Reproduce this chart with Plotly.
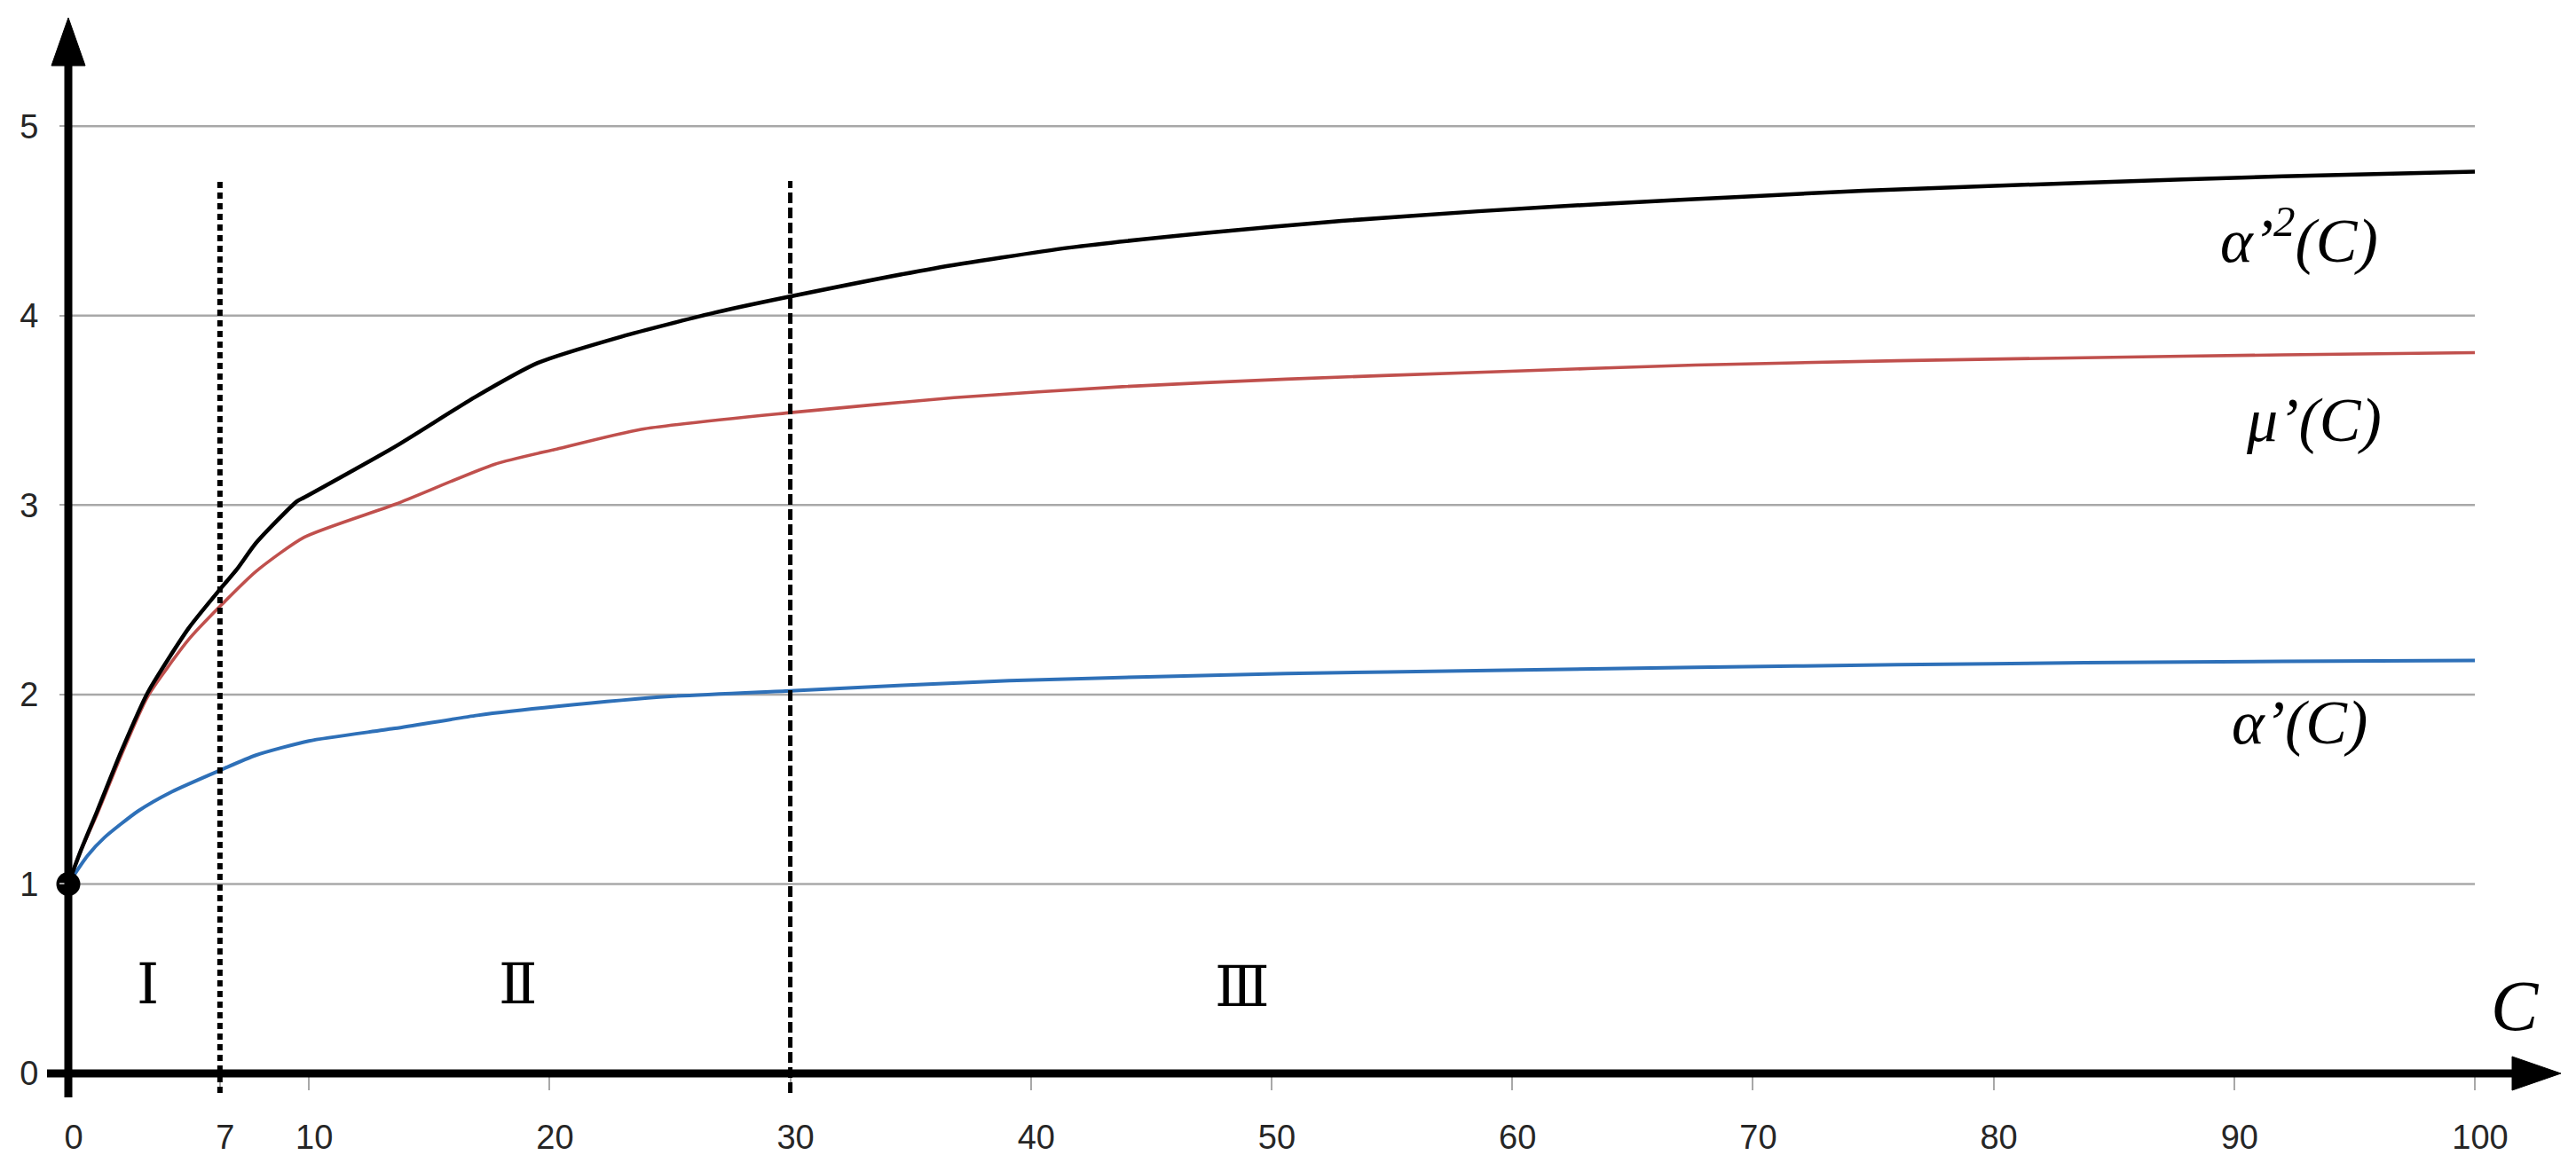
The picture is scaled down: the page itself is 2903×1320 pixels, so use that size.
import plotly.graph_objects as go

W, H = 2903, 1320

# ---------------- data ----------------
c_alpha2 = [0, 0.5, 1.2, 2.2, 3.3, 5.0, 6.3, 7.0, 7.8, 9.5, 9.8, 13.6, 16.9, 19.5,
            23.0, 26.9, 30.3, 36.0, 41.6, 47.3, 52.9, 58.6, 64.2, 69.8, 74.6, 83.8, 92, 100]
alpha2 = [1.0, 1.17, 1.385, 1.70, 2.01, 2.35, 2.555, 2.66, 2.80, 3.02, 3.04, 3.31, 3.57, 3.75,
          3.89, 4.017, 4.109, 4.25, 4.359, 4.437, 4.50, 4.551, 4.593, 4.629, 4.659, 4.702, 4.735, 4.76]

c_mu = [0, 0.5, 1.2, 2.2, 3.3, 5.0, 6.3, 7.8, 9.8, 13.6, 17.7, 20.3, 23.8, 30,
        36.8, 43.8, 50.6, 59.1, 67.6, 76, 83.8, 92, 100]
mu = [1.0, 1.17, 1.37, 1.68, 1.99, 2.29, 2.465, 2.65, 2.83, 3.005, 3.215, 3.296, 3.40, 3.488,
      3.567, 3.625, 3.665, 3.703, 3.739, 3.762, 3.778, 3.793, 3.805]

c_alpha = [0, 0.2, 0.8, 1.5, 2.9, 4.3, 6.3, 7.8, 10.0, 13.5, 17, 20.3, 25, 30,
           39.1, 50.6, 59.1, 67.6, 76, 83.8, 92, 100]
alpha = [1.0, 1.04, 1.15, 1.245, 1.385, 1.487, 1.60, 1.68, 1.755, 1.82, 1.89, 1.937, 1.99, 2.02,
         2.073, 2.111, 2.127, 2.143, 2.157, 2.168, 2.175, 2.18]

x_tick_vals = [0, 6.3, 10, 20, 30, 40, 50, 60, 70, 80, 90, 100]
x_tick_text = ["0", "7", "10", "20", "30", "40", "50", "60", "70", "80", "90", "100"]
y_tick_vals = [0, 1, 2, 3, 4, 5]
grid_levels = [1, 2, 3, 4, 5]
boundaries = [6.3, 30]
region_text = ["Ⅰ", "Ⅱ", "Ⅲ"]
region_x = [3.3, 18.7, 48.8]
region_y = [0.47, 0.47, 0.455]
curve_labels = ["<i>α’<sup>2</sup>(C)</i>", "<i>μ’(C)</i>", "<i>α’(C)</i>"]
curve_label_x = [92.7, 93.3, 92.7]
curve_label_y = [4.42, 3.45, 1.85]
start_x, start_y = [0], [1]

# ---------------- pixel <-> data helpers (layout only) ----------------
X0, XS = 77.0, 27.12      # px of C=0, px per unit
Y0, YS = 1210.0, 213.55   # px of value 0, px per unit


def dx(px):
    return (px - X0) / XS


def dy(py):
    return (Y0 - py) / YS


BLACK = "#000000"
RED = "#C0504D"
BLUE = "#2E70B8"
GRID = "#A8A8A8"

fig = go.Figure()

fig.add_trace(go.Scatter(x=c_alpha, y=alpha, mode="lines",
                         line=dict(color=BLUE, width=4, shape="spline", smoothing=0.6),
                         hoverinfo="skip"))
fig.add_trace(go.Scatter(x=c_mu, y=mu, mode="lines",
                         line=dict(color=RED, width=3.6, shape="spline", smoothing=0.6),
                         hoverinfo="skip"))
fig.add_trace(go.Scatter(x=c_alpha2, y=alpha2, mode="lines",
                         line=dict(color=BLACK, width=4.5, shape="spline", smoothing=0.6),
                         hoverinfo="skip"))

shapes = []
# gridlines
for g in grid_levels:
    shapes.append(dict(type="line", xref="x", yref="y", x0=0, x1=100, y0=g, y1=g,
                       line=dict(color=GRID, width=2.5), layer="below"))
# region boundaries
shapes.append(dict(type="line", xref="x", yref="y", x0=boundaries[0], x1=boundaries[0],
                   y0=dy(1232), y1=dy(205), line=dict(color=BLACK, width=6, dash="7px,5px")))
shapes.append(dict(type="line", xref="x", yref="y", x0=boundaries[1], x1=boundaries[1],
                   y0=dy(1232), y1=dy(204), line=dict(color=BLACK, width=5, dash="12px,5px")))
# axes
shapes.append(dict(type="line", xref="x", yref="y", x0=dx(53), x1=dx(2835), y0=0, y1=0,
                   line=dict(color=BLACK, width=9)))
shapes.append(dict(type="line", xref="x", yref="y", x0=0, x1=0, y0=dy(1237), y1=dy(70),
                   line=dict(color=BLACK, width=9)))
# arrow heads
shapes.append(dict(type="path", xref="x", yref="y",
                   path=f"M {dx(2831)},{dy(Y0 - 19)} L {dx(2886)},{0} L {dx(2831)},{dy(Y0 + 19)} Z",
                   fillcolor=BLACK, line=dict(color=BLACK, width=1)))
shapes.append(dict(type="path", xref="x", yref="y",
                   path=f"M {dx(58)},{dy(74)} L {0},{dy(20)} L {dx(96)},{dy(74)} Z",
                   fillcolor=BLACK, line=dict(color=BLACK, width=1)))

fig.add_trace(go.Scatter(x=start_x, y=start_y, mode="markers",
                         marker=dict(color=BLACK, size=27), cliponaxis=False, hoverinfo="skip"))

annotations = []
for t, x, y in zip(region_text, region_x, region_y):
    annotations.append(dict(text=t, x=x, y=y, xref="x", yref="y", showarrow=False,
                            xanchor="center", yanchor="middle",
                            font=dict(family="Liberation Serif, DejaVu Serif, serif", size=64, color=BLACK)))
for t, x, y in zip(curve_labels, curve_label_x, curve_label_y):
    annotations.append(dict(text=t, x=x, y=y, xref="x", yref="y", showarrow=False,
                            xanchor="center", yanchor="middle",
                            font=dict(family="Liberation Serif", size=70, color=BLACK)))
annotations.append(dict(text="<i>C</i>", x=dx(2834), y=dy(1134), xref="x", yref="y",
                        showarrow=False, xanchor="center", yanchor="middle",
                        font=dict(family="Liberation Serif", size=80, color=BLACK)))

tickfont = dict(family="Liberation Sans, Arial", size=38, color="#262626")

fig.update_layout(
    width=W, height=H,
    margin=dict(l=0, r=0, t=0, b=0, pad=0),
    paper_bgcolor="white", plot_bgcolor="white",
    showlegend=False,
    shapes=shapes,
    annotations=annotations,
    xaxis=dict(range=[dx(0), dx(W)], anchor="free", position=(H - Y0) / H,
               showgrid=False, zeroline=False, showline=False,
               tickmode="array", tickvals=x_tick_vals, ticktext=x_tick_text,
               ticks="outside", ticklen=18, tickwidth=2, tickcolor=GRID,
               tickfont=tickfont, ticklabelstandoff=20, ticklabelshift=6),
    yaxis=dict(range=[dy(H), dy(0)], anchor="free", position=X0 / W,
               showgrid=False, zeroline=False, showline=False,
               tickmode="array", tickvals=y_tick_vals,
               ticks="outside", ticklen=10, tickwidth=2, tickcolor=GRID,
               tickfont=tickfont, ticklabelstandoff=16),
)

fig.write_html("out.html", config={"displayModeBar": False},
               post_script="document.body.style.margin='0';")
